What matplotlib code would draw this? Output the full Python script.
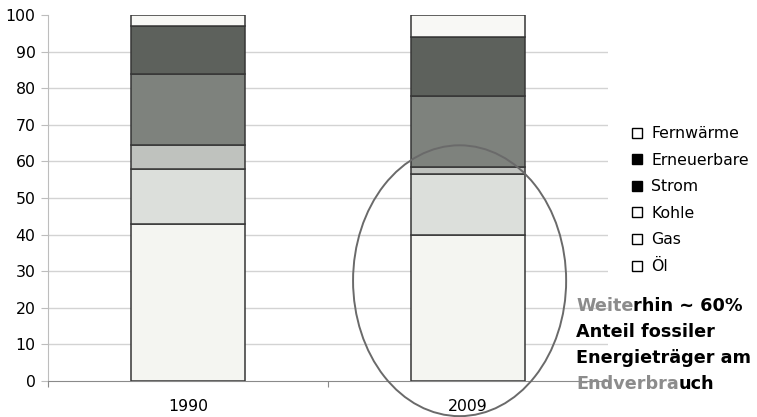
import matplotlib
matplotlib.use("Agg")
import matplotlib.pyplot as plt
from matplotlib.lines import Line2D
from matplotlib.patches import Ellipse
import numpy as np

# Endenergieverbrauch nach Energieträgern, Anteile in %
years = ["1990", "2009"]
carriers = ["Öl", "Gas", "Kohle", "Strom", "Erneuerbare", "Fernwärme"]
oel = [43, 40]
gas = [15, 16.5]
kohle = [6.5, 2]
strom = [19.5, 19.5]
erneuerbare = [13, 16]
fernwaerme = [3, 6]
y_ticks = [0, 10, 20, 30, 40, 50, 60, 70, 80, 90, 100]

series = [oel, gas, kohle, strom, erneuerbare, fernwaerme]
fills = ["#f4f5f1", "#dcdfdb", "#bfc2be", "#7e827d", "#5d615c", "#f8f8f5"]
legend_fill = {"Fernwärme": "white", "Erneuerbare": "black", "Strom": "black",
               "Kohle": "white", "Gas": "white", "Öl": "white"}

plt.rcParams["font.family"] = ["DejaVu Sans"]
W, H = 757, 417
fig = plt.figure(figsize=(W / 100, H / 100), dpi=100)
ax = fig.add_axes([48 / W, 36 / H, 560 / W, 366 / H])

x = np.arange(len(years))
bottom = np.zeros(len(years))
for vals, col in zip(series, fills):
    ax.bar(x, vals, bottom=bottom, width=0.404, color=col,
           edgecolor="#363636", linewidth=1.1, zorder=3)
    bottom += np.array(vals)

ax.set_xlim(-0.5, 1.5)
ax.set_ylim(0, 100)
ax.set_yticks(y_ticks)
ax.set_yticklabels([str(t) for t in y_ticks])
ax.set_xticks(x)
ax.set_xticklabels(years)
ax.set_xticks([-0.5, 0.5, 1.5], minor=True)

for t in y_ticks[1:-1]:
    ax.axhline(t, color="#d3d3d3", linewidth=1.0, zorder=1)

for side in ["top", "right"]:
    ax.spines[side].set_visible(False)
ax.spines["left"].set_color("#bdbdbd")
ax.spines["bottom"].set_color("#8a8a8a")

ax.tick_params(axis="y", direction="out", length=5, width=0.8,
               color="#bdbdbd", pad=4, labelsize=11.3, labelcolor="black")
ax.tick_params(axis="x", which="major", length=0, pad=13, labelsize=11.3)
ax.tick_params(axis="x", which="minor", direction="out", length=4,
               width=0.8, color="#8a8a8a")

# Markierung des Jahres 2009
ax.add_patch(Ellipse((0.970, 27.4), width=0.761, height=74.0, fill=False,
                     edgecolor="#6a6a6a", linewidth=1.4, clip_on=False,
                     zorder=4))

# Legende
handles = [Line2D([], [], marker="s", linestyle="none", markersize=6.8,
                  markerfacecolor=legend_fill[c], markeredgecolor="black",
                  markeredgewidth=1.0)
           for c in carriers[::-1]]
fig.legend(handles, carriers[::-1], loc="upper left",
           bbox_to_anchor=(631 / W, 1 - 126 / H), frameon=False,
           fontsize=11.3, handlelength=0.8, handletextpad=0.5,
           borderpad=0, borderaxespad=0, labelspacing=0.74)

# Hinweistext, teils grau, teils schwarz
lines = [("Weite", "rhin ~ 60%"), ("", "Anteil fossiler"),
         ("", "Energieträger am"), ("Endverbra", "uch")]
baselines = [311, 337, 363, 389]
style = dict(fontsize=12.7, fontweight="bold")
for (grey, black), yb in zip(lines, baselines):
    pos = (576 / W, 1 - yb / H)
    if grey:
        first = fig.text(*pos, grey, color="#8c8c8c", va="baseline",
                         ha="left", **style)
        ax.annotate(black, xy=(1, 0), xycoords=first, va="bottom",
                    ha="left", color="black", annotation_clip=False,
                    **style)
    else:
        fig.text(*pos, black, color="black", va="baseline", ha="left",
                 **style)

fig.savefig("out.png", dpi=100)
